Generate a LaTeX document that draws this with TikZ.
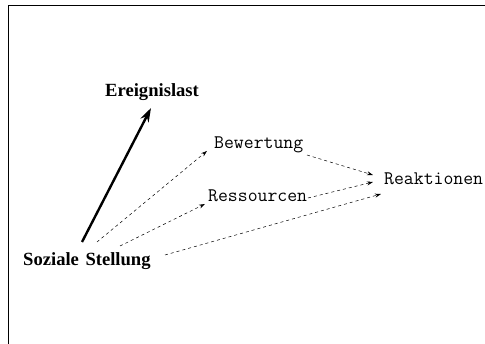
\documentclass[tikz,border=0pt]{standalone}
\usepackage{fontspec}
\setmainfont{Liberation Serif}
\usetikzlibrary{arrows.meta}
\begin{document}
\begin{tikzpicture}[x=1pt,y=-1pt,
  boldlabel/.style={font=\fontsize{18.6}{20}\selectfont\bfseries,inner sep=0pt,anchor=base west},
  monolabel/.style={font=\ttfamily\fontsize{19.2}{21}\selectfont,inner sep=0pt,anchor=base west},
  influence/.style={line width=0.5pt,dash pattern=on 3pt off 3pt,-{Stealth[length=6pt,width=4pt]}},
  mainpath/.style={line width=2.4pt,-{Stealth[length=14pt,width=9pt]}}]
\useasboundingbox (0,0) rectangle (485,344);
% frame: top and left edges
\draw[line width=1pt] (485,6) -- (8,6) -- (8,344);

% labels
\node[boldlabel] (ereig) at (105,97) {Ereignislast};
\node[boldlabel] (soz)   at (23,266) {Soziale\hspace{0.1em} Stellung};
\node[monolabel] (bew)   at (214,149) {Bewertung};
\node[monolabel] (res)   at (208,202) {Ressourcen};
\node[monolabel] (reak)  at (384,185) {Reaktionen};

% connector end points
\coordinate (s1) at (82,242);
\coordinate (s2) at (97,242);
\coordinate (s3) at (120,246);
\coordinate (s4) at (165,255);
\coordinate (e1) at (151,108);
\coordinate (bin) at (207,151);
\coordinate (rin) at (205,204);
\coordinate (bout) at (307,155);
\coordinate (rout) at (308,198);
\coordinate (k1) at (373,175);
\coordinate (k2) at (373,182);
\coordinate (k3) at (381,194);

\draw[mainpath] (s1) -- (e1);
\draw[influence] (s2) -- (bin);
\draw[influence] (s3) -- (rin);
\draw[influence] (s4) -- (k3);
\draw[influence] (bout) -- (k1);
\draw[influence] (rout) -- (k2);
\end{tikzpicture}
\end{document}
